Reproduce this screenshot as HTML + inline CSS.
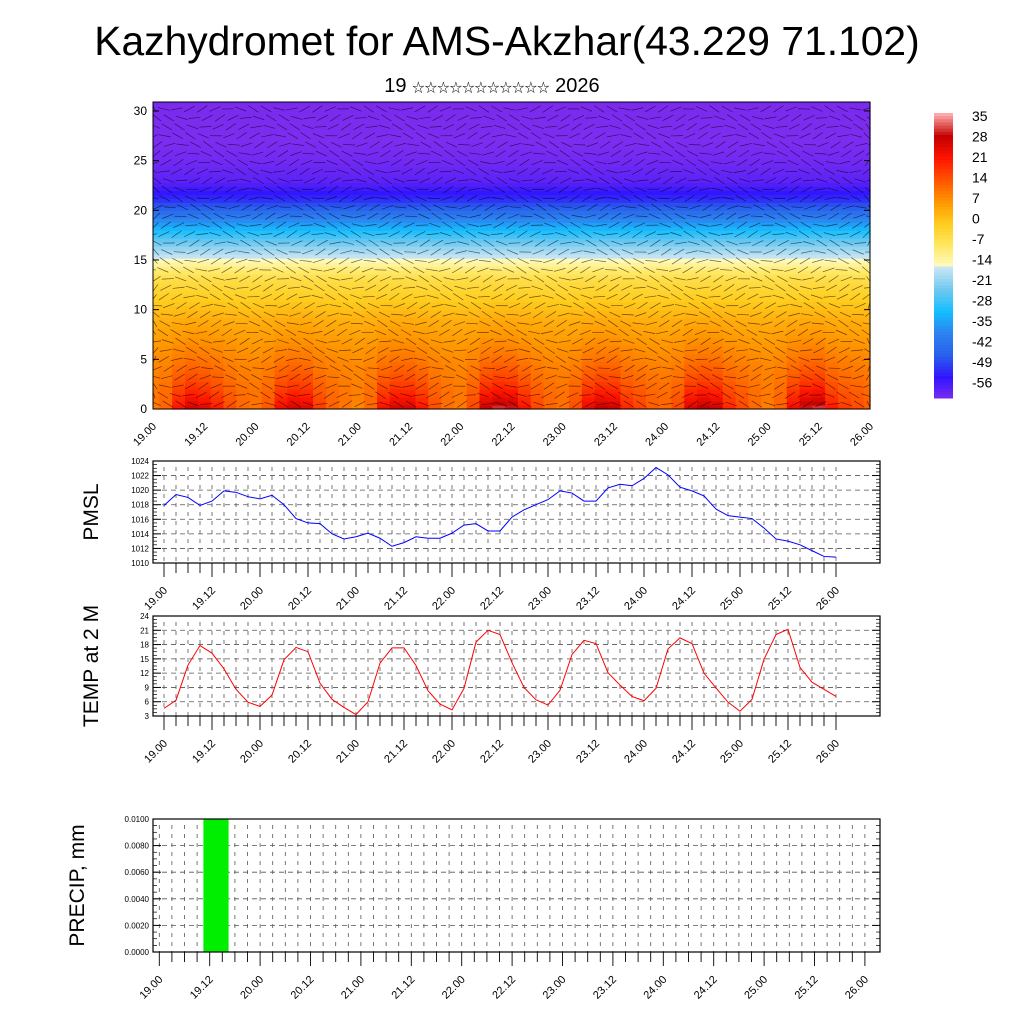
<!DOCTYPE html>
<html><head><meta charset="utf-8">
<style>
body{margin:0;background:#fff;}
svg{display:block;font-family:"Liberation Sans","Noto Sans CJK SC",sans-serif;}
</style></head>
<body>
<svg id="c" width="1024" height="1024" viewBox="0 0 1024 1024">
<text x="507" y="55" font-size="40.8" text-anchor="middle">Kazhydromet for AMS-Akzhar(43.229 71.102)</text>
<text x="492" y="92" font-size="20" text-anchor="middle">19 <tspan font-size="12.5">☆☆☆☆☆☆☆☆☆☆☆</tspan> 2026</text>
</svg>
<script>
const tickLabels=["19.00","19.12","20.00","20.12","21.00","21.12","22.00","22.12","23.00","23.12","24.00","24.12","25.00","25.12","26.00"];
const pmsl=[1017.9,1019.4,1019.0,1017.9,1018.5,1019.9,1019.7,1019.1,1018.8,1019.3,1018.0,1016.1,1015.5,1015.4,1014.0,1013.3,1013.6,1014.1,1013.4,1012.3,1012.8,1013.6,1013.4,1013.4,1014.1,1015.2,1015.4,1014.4,1014.4,1016.3,1017.3,1018.0,1018.7,1019.9,1019.6,1018.5,1018.5,1020.3,1020.8,1020.6,1021.6,1023.1,1022.1,1020.4,1019.9,1019.2,1017.4,1016.5,1016.3,1016.1,1014.8,1013.3,1013.0,1012.5,1011.7,1010.9,1010.8];
const temp2m=[4.6,6.3,13.7,17.8,16.2,12.9,8.6,5.9,5.0,7.4,14.8,17.4,16.5,9.9,6.5,4.8,3.3,6.0,14.1,17.3,17.3,13.6,8.3,5.5,4.3,8.8,18.5,21.0,20.1,14.2,9.0,6.4,5.3,8.4,15.9,18.9,18.2,12.1,9.5,7.1,6.2,8.8,17.1,19.4,18.2,12.0,8.9,5.9,4.0,6.5,14.9,20.1,21.2,13.2,10.1,8.6,7.1];
const precip=[0,0,0,0,0.0100,0.0100,0,0,0,0,0,0,0,0,0,0,0,0,0,0,0,0,0,0,0,0,0,0,0,0,0,0,0,0,0,0,0,0,0,0,0,0,0,0,0,0,0,0,0,0,0,0,0,0,0,0,0];
const profileZ=[0,3,6,9,11,13,14,15,16,17,18,19,20,21,22,23,25,27,31];
const profileT=[17,12,8,4,0,-4,-8,-13,-17,-22,-28,-34,-40,-46,-50,-53,-55,-56,-58];
const cbarLabels=["35","28","21","14","7","0","-7","-14","-21","-28","-35","-42","-49","-56"];
const pmslTicks=[1010,1012,1014,1016,1018,1020,1022,1024];
const tempTicks=[3,6,9,12,15,18,21,24];
const precipTicks=[0,0.002,0.004,0.006,0.008,0.01];
const zTicks=[0,5,10,15,20,25,30];

const svg=document.getElementById('c');
const NS='http://www.w3.org/2000/svg';
function mk(tag,attrs,parent){const e=document.createElementNS(NS,tag);for(const k in attrs)e.setAttribute(k,attrs[k]);(parent||svg).appendChild(e);return e;}

const cStops=[[-60,[120,40,235]],[-56,[125,45,240]],[-49,[50,20,255]],[-42,[40,95,235]],[-35,[45,130,240]],[-28,[20,190,255]],[-21,[110,200,240]],[-14,[200,230,245]],[-13.9,[255,252,200]],[-7,[255,232,100]],[0,[255,205,30]],[7,[255,150,0]],[14,[255,85,0]],[21,[255,20,0]],[28,[195,0,0]],[35,[255,170,170]]];
function cmap(v){if(v<=cStops[0][0])return 'rgb('+cStops[0][1]+')';for(let i=1;i<cStops.length;i++){if(v<=cStops[i][0]){const a=cStops[i-1],b=cStops[i],f=(v-a[0])/(b[0]-a[0]);return 'rgb('+a[1].map((x,j)=>Math.round(x+(b[1][j]-x)*f)).join(',')+')';}}return 'rgb('+cStops[cStops.length-1][1]+')';}
function interpProfile(z){for(let i=1;i<profileZ.length;i++){if(z<=profileZ[i]){const f=(z-profileZ[i-1])/(profileZ[i]-profileZ[i-1]);return profileT[i-1]+(profileT[i]-profileT[i-1])*f;}}return profileT[profileT.length-1];}

function xLabels(g,x0,step,yb,name){
  tickLabels.forEach((t,i)=>{const x=x0+i*step*4;
    const tx=mk('text',{x:x+4,y:yb+14,'font-size':11,'text-anchor':'end',transform:`rotate(-45 ${x+4} ${yb+14})`},g);tx.textContent=t;
    
    });
}

const M={x0:153,x1:870,y0:102,y1:409,zmax:30.9};
const mg=mk('g',{});
const nT=temp2m.length,stepX=(M.x1-M.x0)/(nT-1);
const mx=i=>M.x0+i*stepX, mz=z=>M.y1-(z/M.zmax)*(M.y1-M.y0);
const dz=0.4;
for(let i=0;i<nT;i++){for(let z=0;z<M.zmax;z+=dz){
  const v=interpProfile(z+dz/2)+(temp2m[i]-10)*1.2*Math.exp(-z/2.8);
  const xa=Math.max(M.x0,mx(i)-stepX/2),xb=Math.min(M.x1,mx(i)+stepX/2);
  const r=mk('rect',{x:xa,y:mz(Math.min(z+dz,M.zmax)),width:xb-xa+0.6,height:mz(z)-mz(Math.min(z+dz,M.zmax))+0.6,fill:cmap(v)},mg);
  
  
}}
const wg=mk('g',{stroke:'#000','stroke-width':0.7,opacity:0.6},mg);
for(let i=0;i<nT;i++){for(let z=0.5;z<M.zmax;z+=0.9){const x=mx(i)+((z*10)%7)-3,y=mz(z);
  const ang=Math.sin(i*0.7+z*0.9)*0.6;
  const x1=Math.max(M.x0,x-6*Math.cos(ang)),x2=Math.min(M.x1,x+6*Math.cos(ang));
  mk('line',{x1:x1,y1:y-6*Math.sin(ang),x2:x2,y2:y+6*Math.sin(ang)},wg);}}
mk('rect',{x:M.x0,y:M.y0,width:M.x1-M.x0,height:M.y1-M.y0,fill:'none',stroke:'#000','stroke-width':1},mg);
zTicks.forEach(z=>{const y=mz(z);mk('line',{x1:M.x0,y1:y,x2:M.x0+6,y2:y,stroke:'#000'},mg);mk('line',{x1:M.x1,y1:y,x2:M.x1-6,y2:y,stroke:'#000'},mg);
  const t=mk('text',{x:M.x0-6,y:y+4,'font-size':12,'text-anchor':'end'},mg);t.textContent=z;
  });
xLabels(mg,M.x0,(M.x1-M.x0)/56,M.y1+4,'main');

const cb=mk('g',{});
const cbTop=113,cbBot=398;
for(let k=0;k<91;k++){const v=35-k;const y=cbTop+(cbBot-cbTop)*k/91;
  mk('rect',{x:934,y:y,width:19,height:(cbBot-cbTop)/91+0.5,fill:cmap(v)},cb);}
cbarLabels.forEach((l,i)=>{const t=mk('text',{x:972,y:121+i*20.5,'font-size':14},cb);t.textContent=l;
  });

function linePanel(o){
  const g=mk('g',{});
  const X=i=>o.tx0+i*o.step, Y=v=>o.y1-(v-o.vmin)/(o.vmax-o.vmin)*(o.y1-o.y0);
  for(let i=0;i<57;i++){mk('line',{x1:X(i),y1:o.y0+6,x2:X(i),y2:o.y1,stroke:'#555','stroke-width':0.8,'stroke-dasharray':'4,5'},g);}
  o.ticks.forEach((v,k)=>{const y=Y(v);
    mk('line',{x1:o.x0,y1:y,x2:o.x1,y2:y,stroke:'#555','stroke-width':0.8,'stroke-dasharray':'5,4'},g);
    mk('line',{x1:o.x0,y1:y,x2:o.x0+8,y2:y,stroke:'#000'},g);mk('line',{x1:o.x1,y1:y,x2:o.x1-8,y2:y,stroke:'#000'},g);
    if(k<o.ticks.length-1){const y2=Y(o.ticks[k+1]);for(let m=1;m<4;m++){const ym=y+(y2-y)*m/4;
      mk('line',{x1:o.x0,y1:ym,x2:o.x0+4,y2:ym,stroke:'#000','stroke-width':0.7},g);mk('line',{x1:o.x1,y1:ym,x2:o.x1-4,y2:ym,stroke:'#000','stroke-width':0.7},g);}}
    const t=mk('text',{x:o.x0-4,y:y+3,'font-size':o.fs,'text-anchor':'end'},g);t.textContent=o.fmt(v);
    });
  o.draw(g,X,Y);
  mk('rect',{x:o.x0,y:o.y0,width:o.x1-o.x0,height:o.y1-o.y0,fill:'none',stroke:'#000','stroke-width':1.2},g);
  for(let i=0;i<57;i++){mk('line',{x1:X(i),y1:o.y1,x2:X(i),y2:o.y1+(i%4==0?14:10),stroke:'#000','stroke-width':0.9},g);}
  xLabels(g,o.tx0,o.step,o.y1+14,o.name);
  const lab=mk('text',{x:o.lx,y:(o.y0+o.y1)/2,'font-size':21,'text-anchor':'middle',transform:`rotate(-90 ${o.lx} ${(o.y0+o.y1)/2})`},g);
  lab.textContent=o.label;
}
linePanel({name:'pmsl-panel',x0:153,x1:880,y0:461,y1:563,tx0:164,step:12,vmin:1010,vmax:1024,ticks:pmslTicks,fs:8,fmt:v=>v,lx:98,label:'PMSL',
  draw:(g,X,Y)=>{const p=mk('polyline',{points:pmsl.map((v,i)=>X(i)+','+Y(v)).join(' '),fill:'none',stroke:'#0000ff','stroke-width':1},g);
    }});
linePanel({name:'temp-panel',x0:153,x1:880,y0:616,y1:716,tx0:164,step:12,vmin:3,vmax:24,ticks:tempTicks,fs:8,fmt:v=>v,lx:98,label:'TEMP at 2 M',
  draw:(g,X,Y)=>{const p=mk('polyline',{points:temp2m.map((v,i)=>X(i)+','+Y(v)).join(' '),fill:'none',stroke:'#ff0000','stroke-width':1},g);
    }});
linePanel({name:'precip-panel',x0:153,x1:880,y0:819,y1:952,tx0:159.3,step:12.6,vmin:0,vmax:0.01,ticks:precipTicks,fs:8,fmt:v=>v.toFixed(4),lx:84,label:'PRECIP, mm',
  draw:(g,X,Y)=>{precip.forEach((v,i)=>{if(v<=0)return;const b=mk('rect',{x:X(i)-6.3,y:Y(v),width:12.6,height:Y(0)-Y(v),fill:'#00ee00'},g);
    });}});
</script>
</body></html>
